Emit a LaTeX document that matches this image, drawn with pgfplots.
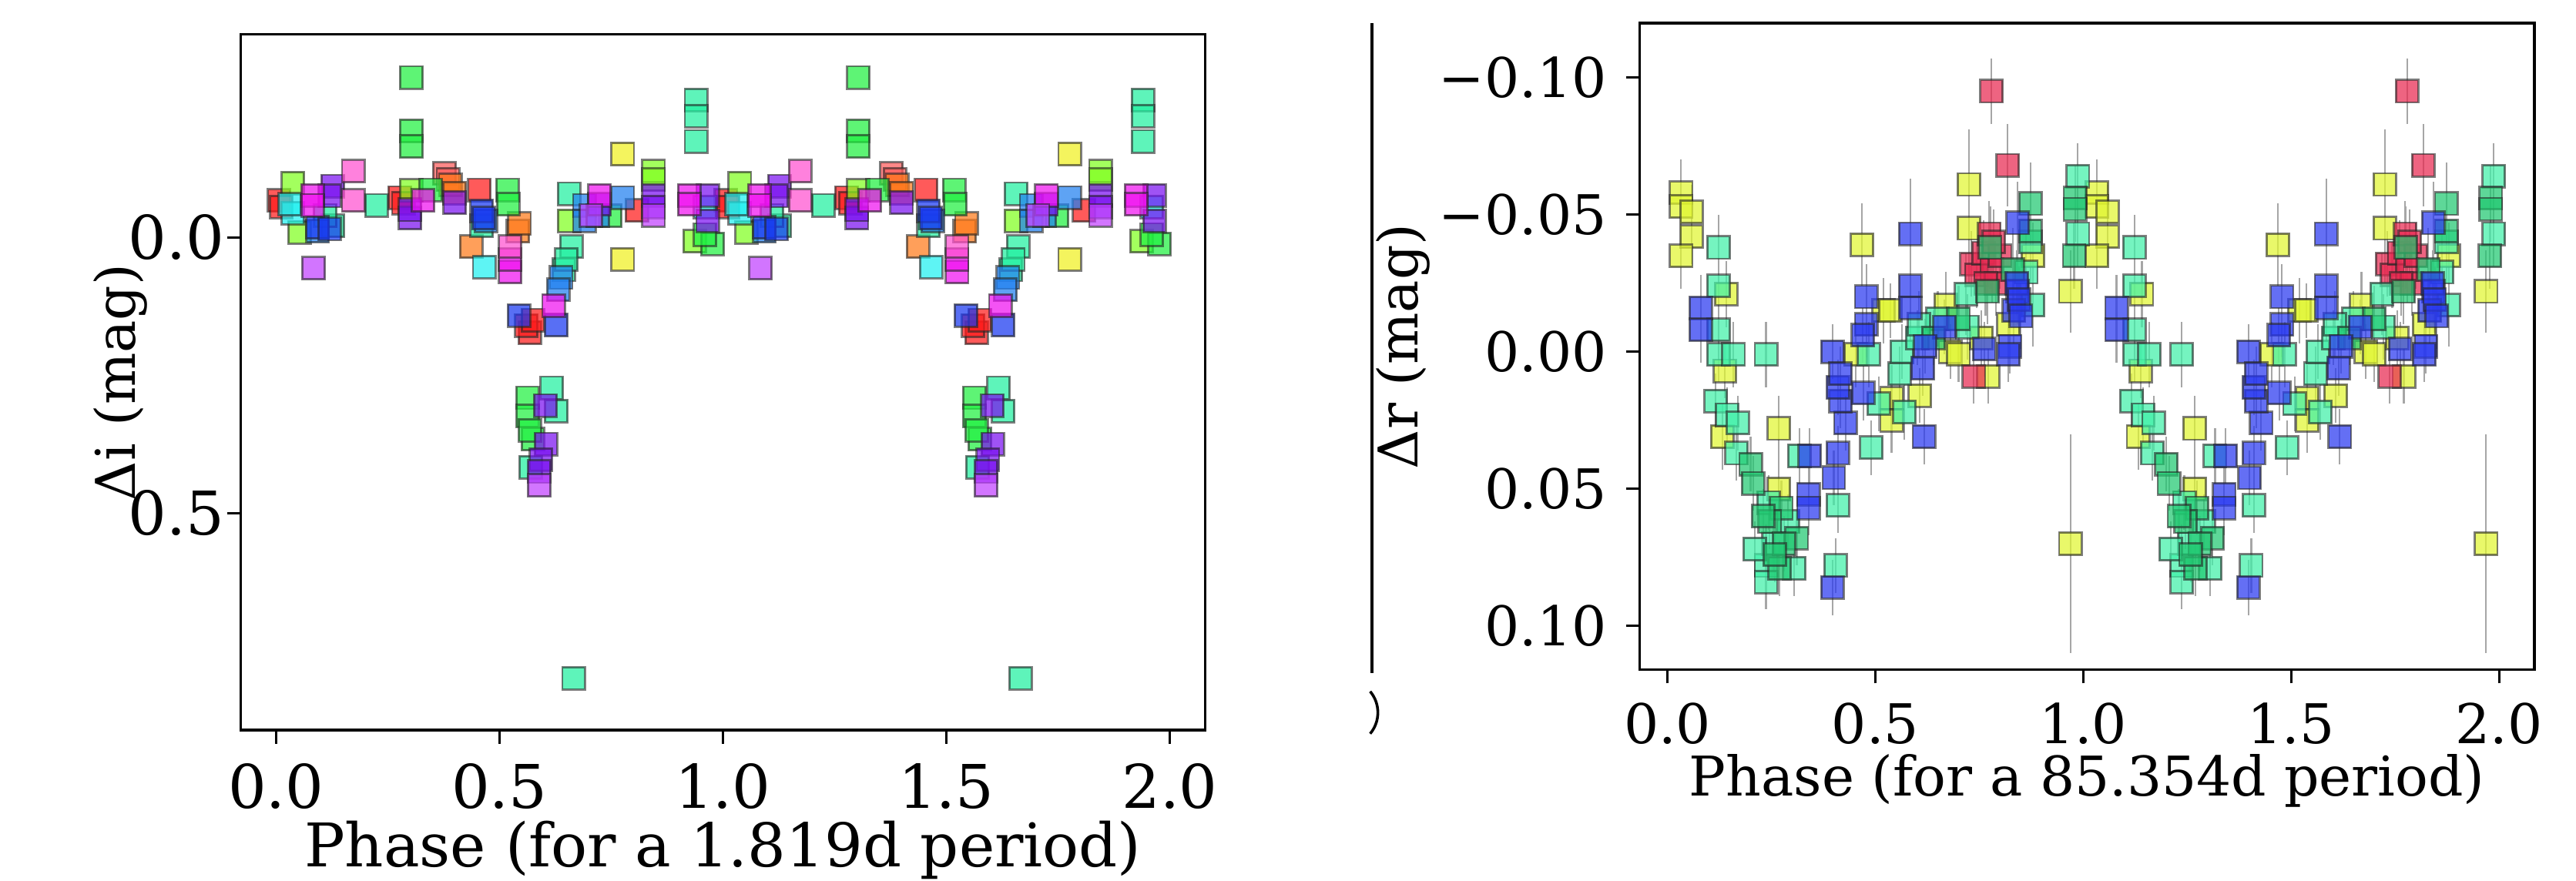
\documentclass[border=0pt]{standalone}
\usepackage{fontspec}
\setmainfont{DejaVu Serif}
\usepackage{pgfplots}
\usepackage{pgfplotstable}
\pgfplotsset{compat=1.18}

% left panel colours
\definecolor{cRed}{HTML}{FF1A1A}
\definecolor{cSalmon}{HTML}{FF5A5A}
\definecolor{cOrange}{HTML}{FF7A1A}
\definecolor{cYellow}{HTML}{F0F020}
\definecolor{cLime}{HTML}{80FF20}
\definecolor{cGreen}{HTML}{20F040}
\definecolor{cSpring}{HTML}{20F0A0}
\definecolor{cCyan}{HTML}{20F0F0}
\definecolor{cAzure}{HTML}{2080F0}
\definecolor{cBlue}{HTML}{1838F0}
\definecolor{cViolet}{HTML}{7A10F0}
\definecolor{cMagenta}{HTML}{F010F0}
\definecolor{cPink}{HTML}{FF50D0}
\definecolor{cLav}{HTML}{C040FF}
% right panel colours
\definecolor{rYellow}{HTML}{E0F530}
\definecolor{rAqua}{HTML}{40F0A8}
\definecolor{rGreen}{HTML}{20C870}
\definecolor{rBlue}{HTML}{2838F0}
\definecolor{rRed}{HTML}{E82850}

% ---- left panel, one table per colour (phase, dmag)
\pgfplotstableread{
p y
0.007 -0.067
0.012 -0.055
0.277 -0.072
0.285 -0.062
0.455 -0.086
0.808 -0.049
0.568 0.173
0.560 0.160
0.575 0.150
}\lred
\pgfplotstableread{
p y
0.377 -0.116
0.385 -0.105
}\lsalmon
\pgfplotstableread{
p y
0.390 -0.095
0.400 -0.080
0.437 0.017
0.541 -0.011
0.545 -0.025
}\lorange
\pgfplotstableread{
p y
0.776 -0.151
0.776 0.040
}\lyellow
\pgfplotstableread{
p y
0.038 -0.098
0.053 -0.009
0.303 -0.085
0.656 -0.030
0.845 -0.120
0.845 -0.105
0.937 0.007
}\llime
\pgfplotstableread{
p y
0.303 -0.290
0.303 -0.193
0.303 -0.165
0.346 -0.086
0.518 -0.086
0.520 -0.060
0.748 -0.039
0.977 0.012
0.960 -0.005
0.563 0.291
0.563 0.324
0.575 0.366
0.568 0.350
}\lgreen
\pgfplotstableread{
p y
0.225 -0.058
0.127 -0.021
0.110 -0.040
0.460 -0.021
0.656 -0.079
0.661 0.017
0.644 0.059
0.650 0.040
0.940 -0.249
0.940 -0.220
0.940 -0.174
0.617 0.273
0.627 0.315
0.570 0.417
0.666 0.800
}\lspring
\pgfplotstableread{
p y
0.038 -0.044
0.030 -0.060
0.466 0.054
0.960 -0.055
}\lcyan
\pgfplotstableread{
p y
0.690 -0.058
0.690 -0.030
0.776 -0.072
0.720 -0.040
0.638 0.073
0.632 0.095
0.093 -0.011
0.470 -0.030
}\lazure
\pgfplotstableread{
p y
0.093 -0.018
0.120 -0.015
0.460 -0.048
0.465 -0.035
0.544 0.142
0.627 0.159
}\lblue
\pgfplotstableread{
p y
0.127 -0.093
0.120 -0.075
0.300 -0.035
0.300 -0.050
0.400 -0.063
0.724 -0.060
0.845 -0.076
0.845 -0.055
0.966 -0.076
0.966 -0.030
0.603 0.305
0.604 0.375
0.593 0.403
0.589 0.425
}\lviolet
\pgfplotstableread{
p y
0.082 -0.076
0.082 -0.058
0.329 -0.067
0.724 -0.076
0.925 -0.076
0.925 -0.060
0.524 0.063
0.524 0.040
0.621 0.124
}\lmagenta
\pgfplotstableread{
p y
0.173 -0.120
0.173 -0.067
0.524 0.017
}\lpink
\pgfplotstableread{
p y
0.084 0.056
0.845 -0.040
0.705 -0.040
0.589 0.450
}\llav

% ---- right panel (phase, dmag, error)
\pgfplotstableread{
p y e
0.033 -0.058 0.012
0.033 -0.053 0.012
0.058 -0.051 0.010
0.058 -0.042 0.010
0.033 -0.035 0.012
0.141 -0.021 0.012
0.138 0.007 0.010
0.132 0.031 0.012
0.268 0.028 0.012
0.268 0.050 0.012
0.468 -0.039 0.015
0.520 -0.015 0.012
0.453 0.001 0.012
0.539 0.017 0.012
0.539 0.025 0.012
0.607 0.016 0.010
0.536 -0.015 0.010
0.669 -0.017 0.012
0.680 0.000 0.010
0.725 -0.061 0.020
0.725 -0.045 0.020
0.771 0.009 0.010
0.879 -0.035 0.012
0.969 -0.022 0.015
0.969 0.070 0.040
0.700 0.001 0.010
0.755 -0.005 0.010
0.820 -0.010 0.012
}\ryellow
\pgfplotstableread{
p y e
0.779 -0.095 0.012
0.818 -0.068 0.015
0.731 -0.032 0.012
0.743 -0.028 0.012
0.760 -0.036 0.012
0.774 -0.043 0.012
0.780 -0.030 0.012
0.790 -0.025 0.012
0.800 -0.035 0.012
0.785 -0.040 0.012
0.765 -0.025 0.012
0.737 0.009 0.010
}\rred
\pgfplotstableread{
p y e
0.123 -0.038 0.012
0.123 -0.024 0.015
0.123 -0.008 0.012
0.123 0.001 0.010
0.159 0.001 0.012
0.237 0.001 0.012
0.116 0.018 0.010
0.144 0.023 0.010
0.169 0.026 0.010
0.166 0.037 0.010
0.243 0.055 0.010
0.237 0.078 0.015
0.237 0.084 0.010
0.305 0.079 0.010
0.317 0.038 0.010
0.410 0.056 0.010
0.404 0.078 0.010
0.490 0.035 0.010
0.508 0.019 0.010
0.558 0.008 0.010
0.570 0.022 0.010
0.564 0.000 0.010
0.601 -0.005 0.010
0.718 -0.021 0.015
0.722 -0.009 0.012
0.863 -0.029 0.015
0.873 -0.040 0.015
0.879 -0.017 0.015
0.987 -0.064 0.012
0.987 -0.043 0.012
0.484 0.001 0.012
0.290 0.062 0.010
0.255 0.070 0.010
0.210 0.072 0.010
0.650 -0.012 0.010
0.605 -0.010 0.012
}\raqua
\pgfplotstableread{
p y e
0.200 0.041 0.010
0.206 0.048 0.010
0.274 0.057 0.010
0.246 0.062 0.010
0.311 0.068 0.010
0.270 0.079 0.010
0.776 -0.038 0.015
0.873 -0.054 0.015
0.873 -0.044 0.015
0.770 -0.022 0.012
0.980 -0.056 0.012
0.980 -0.052 0.012
0.978 -0.035 0.012
0.280 0.070 0.010
0.258 0.074 0.010
0.230 0.060 0.010
0.640 -0.005 0.010
0.700 -0.012 0.012
0.830 -0.030 0.015
}\rgreen
\pgfplotstableread{
p y e
0.080 -0.016 0.012
0.080 -0.008 0.012
0.397 0.000 0.010
0.478 -0.020 0.012
0.478 -0.010 0.012
0.470 -0.006 0.010
0.584 -0.043 0.020
0.584 -0.024 0.015
0.584 -0.016 0.012
0.666 -0.009 0.010
0.620 -0.002 0.010
0.762 -0.001 0.010
0.824 -0.002 0.010
0.842 -0.047 0.015
0.842 -0.022 0.012
0.833 -0.015 0.012
0.342 0.038 0.010
0.339 0.052 0.010
0.339 0.057 0.010
0.400 0.046 0.010
0.397 0.086 0.010
0.410 0.037 0.010
0.428 0.026 0.010
0.416 0.018 0.010
0.410 0.013 0.010
0.416 0.008 0.010
0.471 0.015 0.010
0.614 0.006 0.010
0.617 0.031 0.010
0.840 -0.025 0.012
0.845 -0.019 0.012
0.850 -0.013 0.012
0.820 0.001 0.010
}\rblue

\pgfplotsset{
  sq/.style={only marks, mark=square*, mark size=2.05pt,
    mark options={fill=#1, fill opacity=0.72, draw=black!85, draw opacity=0.6, line width=0.4pt}},
  sqe/.style={sq=#1, error bars/.cd, y dir=both, y explicit,
    error mark=none, error bar style={black!35, line width=0.3pt}},
  panel/.style={scale only axis, anchor=south west,
    tick align=outside, xtick pos=bottom, ytick pos=left,
    major tick length=2.5pt, tick style={black, line width=0.45pt},
    axis line style={line width=0.5pt}, y dir=reverse,
    xtick={0,0.5,1,1.5,2}, xticklabels={0.0,0.5,1.0,1.5,2.0}},
}
% data folded on the phase, drawn at phase and phase+1
\newcommand{\twice}[2]{%
  \addplot[sq=#1] table[x=p,y=y]{#2};
  \addplot[sq=#1] table[x expr=\thisrow{p}+1,y=y]{#2};
}
\newcommand{\twiceerr}[2]{%
  \addplot[sqe=#1] table[x=p,y=y,y error=e]{#2};
  \addplot[sqe=#1] table[x expr=\thisrow{p}+1,y=y,y error=e]{#2};
}

\begin{document}
\begin{tikzpicture}
\path[use as bounding box] (0,0) rectangle (470.4pt,160.8pt);

\begin{axis}[panel,
  at={(43.95pt,27.42pt)}, width=176.1pt, height=127.1pt,
  xmin=-0.079, xmax=2.079, ymin=-0.368, ymax=0.894,
  ytick={0,0.5}, yticklabels={0.0,0.5},
  ticklabel style={font=\fontsize{11}{13}\selectfont},
  yticklabel style={xshift=3pt},
  label style={font=\fontsize{11}{13}\selectfont},
  xlabel={Phase (for a 1.819d period)}, ylabel={Δi (mag)},
  xlabel style={at={(axis description cs:0.5,-0.196)}, anchor=base},
  ylabel style={at={(axis description cs:-0.125,0.5)}, anchor=center,
    font=\fontsize{10}{12}\selectfont},
]
\twice{cRed}{\lred}
\twice{cSalmon}{\lsalmon}
\twice{cOrange}{\lorange}
\twice{cYellow}{\lyellow}
\twice{cLime}{\llime}
\twice{cGreen}{\lgreen}
\twice{cSpring}{\lspring}
\twice{cCyan}{\lcyan}
\twice{cAzure}{\lazure}
\twice{cBlue}{\lblue}
\twice{cViolet}{\lviolet}
\twice{cMagenta}{\lmagenta}
\twice{cPink}{\lpink}
\twice{cLav}{\llav}
\end{axis}

\begin{axis}[panel,
  at={(299.4pt,38.46pt)}, width=163.4pt, height=118.1pt,
  xmin=-0.067, xmax=2.085, ymin=-0.1198, ymax=0.116,
  ytick={-0.1,-0.05,0,0.05,0.1}, yticklabels={−0.10,−0.05,0.00,0.05,0.10},
  ticklabel style={font=\fontsize{10}{12}\selectfont},
  label style={font=\fontsize{10}{12}\selectfont},
  xlabel={Phase (for a 85.354d period)}, ylabel={Δr (mag)},
  xlabel style={at={(axis description cs:0.5,-0.195)}, anchor=base},
  ylabel style={at={(axis description cs:-0.264,0.5)}, anchor=center},
]
\twiceerr{rYellow}{\ryellow}
\twiceerr{rRed}{\rred}
\twiceerr{rAqua}{\raqua}
\twiceerr{rGreen}{\rgreen}
\twiceerr{rBlue}{\rblue}
\end{axis}

% edge of a neighbouring panel left in the crop
\draw[line width=0.5pt] (250.5pt,156.6pt) -- (250.5pt,37.8pt);
\draw[line width=0.5pt] (250.2pt,34.5pt) arc[start angle=40, end angle=-40, radius=6pt];
\end{tikzpicture}
\end{document}
